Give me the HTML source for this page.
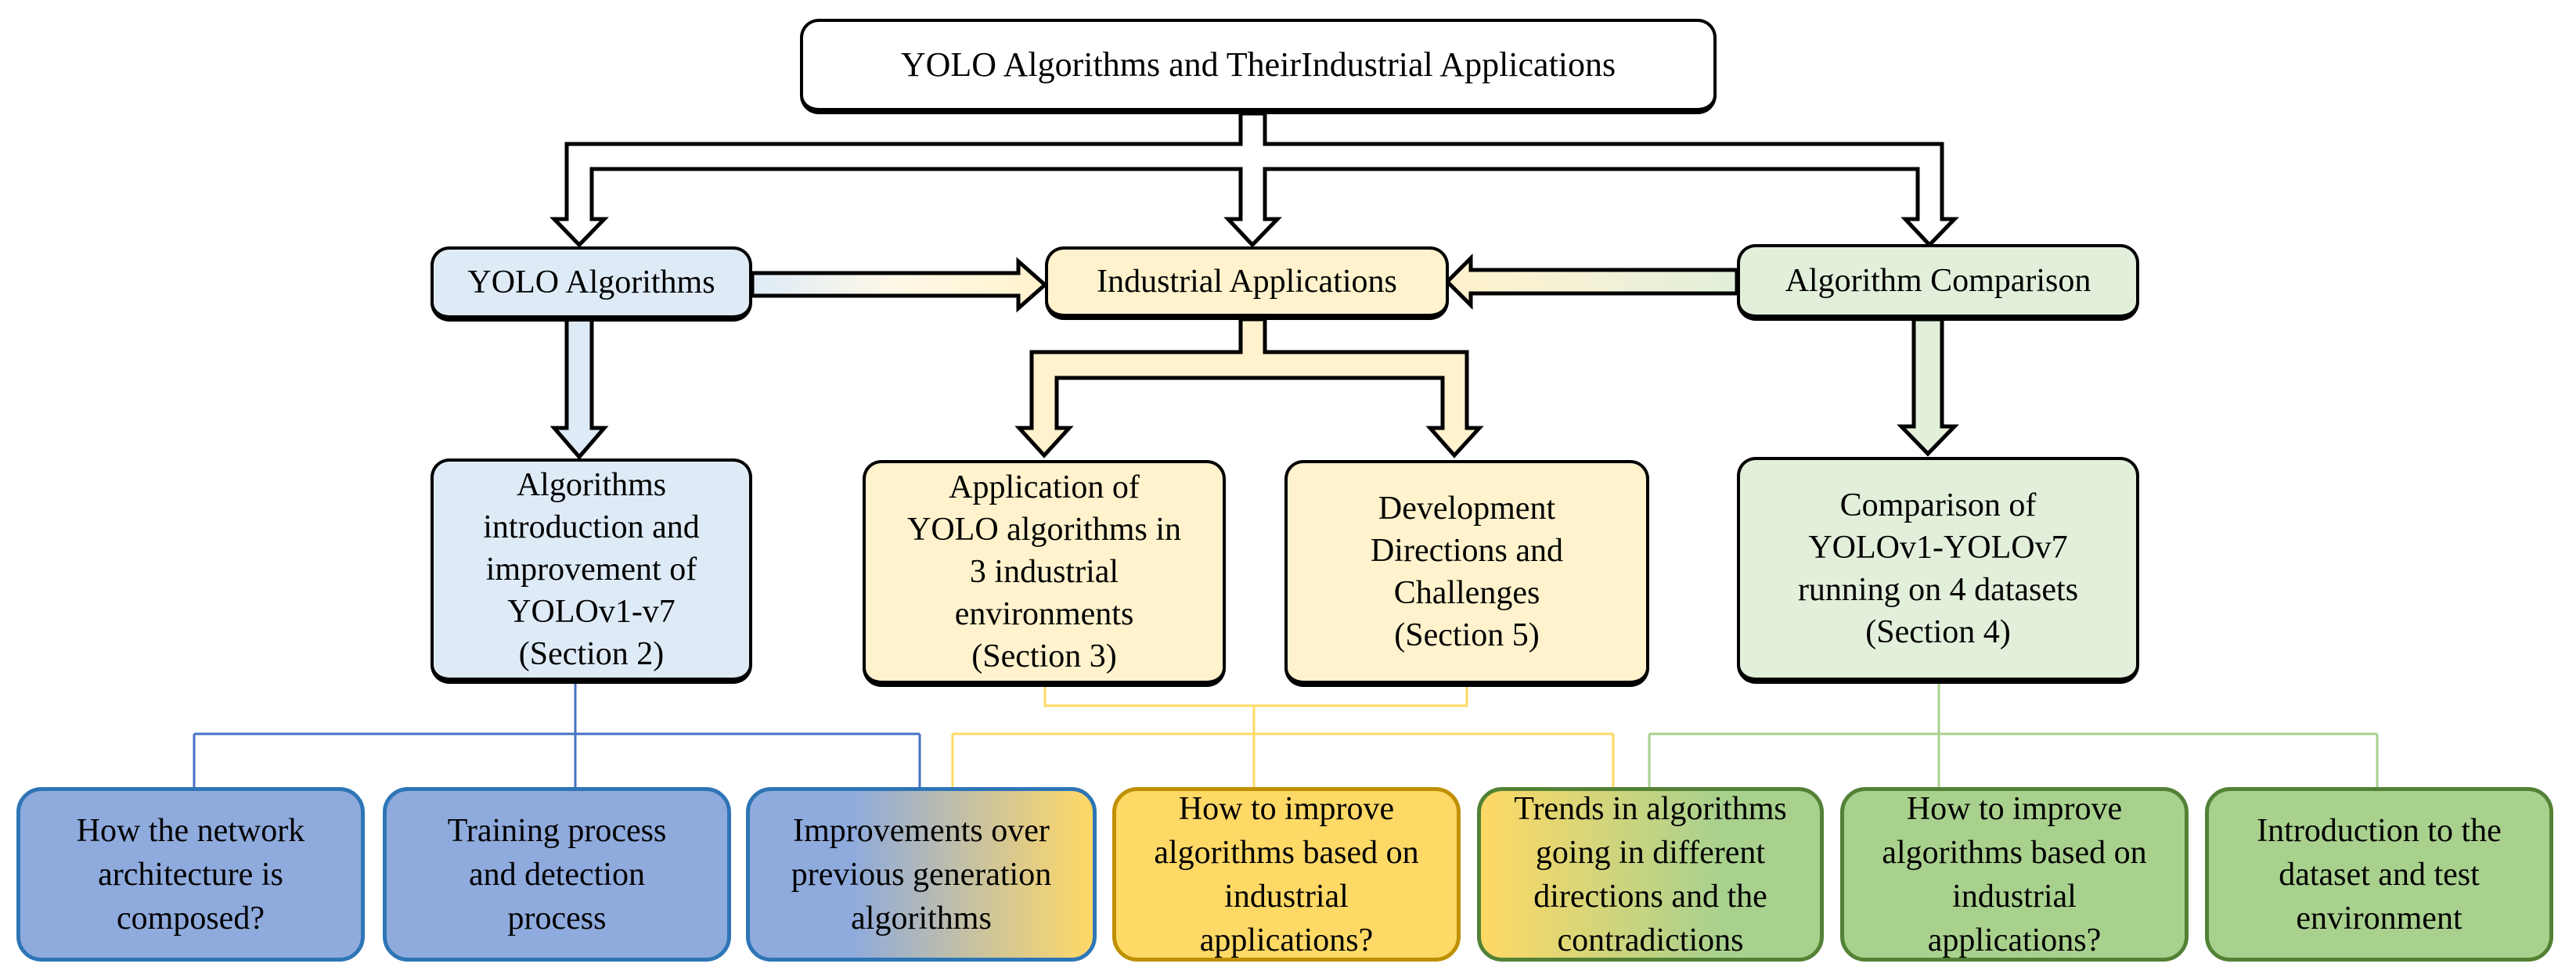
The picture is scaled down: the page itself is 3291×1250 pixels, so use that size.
<!DOCTYPE html>
<html><head><meta charset="utf-8"><style>
body{margin:0;width:3291px;height:1250px;background:#fff;position:relative;overflow:hidden;font-family:"Liberation Serif","Times New Roman",Tinos,"DejaVu Serif",serif;}
.b{position:absolute;box-sizing:border-box;display:flex;align-items:center;justify-content:center;text-align:center;color:#000;font-family:"Liberation Serif","Times New Roman",Tinos,"DejaVu Serif",serif;}
.k{border:4px solid #000;border-bottom-width:8px;border-radius:24px;font-size:42px;line-height:54px;}
.s{border:5px solid;border-radius:32px;font-size:42px;line-height:56px;}
.bl{background:#8faadc;border-color:#2e75b6;}
.ye{background:#ffd966;border-color:#bf9000;}
.gr{background:#a9d18e;border-color:#538135;}
</style></head><body>
<svg width="3291" height="1250" style="position:absolute;left:0;top:0">
<defs>
<linearGradient id="g1" x1="0" x2="1"><stop offset="0" stop-color="#deebf7"/><stop offset="0.5" stop-color="#fff8e6"/><stop offset="1" stop-color="#fff2cc"/></linearGradient>
<linearGradient id="g2" x1="0" x2="1"><stop offset="0" stop-color="#fff2cc"/><stop offset="0.5" stop-color="#f3f1d6"/><stop offset="1" stop-color="#e2efda"/></linearGradient>
</defs>
<g stroke="#000" stroke-width="5" stroke-linejoin="miter">
<polygon fill="#fff" points="1585,145 1585,184 724,184 724,280 708,280 740,313 772,280 756,280 756,216 1585,216 1585,280 1569,280 1600,313 1632,280 1616,280 1616,216 2450,216 2450,280 2434,280 2465,313 2497,280 2481,280 2481,184 1616,184 1616,145"/>
<polygon fill="#fff2cc" points="1585,408 1585,450 1318,450 1318,547 1302,547 1334,582 1366,547 1350,547 1350,483 1843,483 1843,547 1827,547 1858,582 1890,547 1874,547 1874,450 1616,450 1616,408"/>
<polygon fill="#deebf7" points="724,408 724,547 708,547 740,584 772,547 756,547 756,408"/>
<polygon fill="#e2efda" points="2445,408 2445,545 2429,545 2463,580 2497,545 2481,545 2481,408"/>
<polygon fill="url(#g1)" points="961,349 1301,349 1301,334 1335,364 1301,394 1301,378 961,378"/>
<polygon fill="url(#g2)" points="2219,345 1879,345 1879,330 1849,360 1879,390 1879,375 2219,375"/>
</g>
<g fill="none" stroke-width="3">
<path d="M735,874 V1006 M248,938 H1175 M248,938 V1006 M1175,938 V1006" stroke="#4472c4"/>
<path d="M1335,876 V902 H1874 V876 M1602,902 V1006 M1217,938 H2061 M1217,938 V1006 M2061,938 V1006" stroke="#ffd966"/>
<path d="M2477,874 V1006 M2107,938 H3037 M2107,938 V1006 M3037,938 V1006" stroke="#a9d18e"/>
</g>
</svg>
<div class="b k" style="left:1022px;top:24px;width:1171px;height:122px;background:#fff;font-size:44px;">YOLO Algorithms and TheirIndustrial Applications</div>
<div class="b k" style="left:550px;top:315px;width:411px;height:96px;background:#deebf7;">YOLO Algorithms</div>
<div class="b k" style="left:1335px;top:315px;width:516px;height:94px;background:#fff2cc;">Industrial Applications</div>
<div class="b k" style="left:2219px;top:312px;width:514px;height:98px;background:#e2efda;">Algorithm Comparison</div>
<div class="b k" style="left:550px;top:586px;width:411px;height:288px;background:#deebf7;">Algorithms<br>introduction and<br>improvement of<br>YOLOv1-v7<br>(Section 2)</div>
<div class="b k" style="left:1102px;top:588px;width:464px;height:290px;background:#fff2cc;">Application of<br>YOLO algorithms in<br>3 industrial<br>environments<br>(Section 3)</div>
<div class="b k" style="left:1641px;top:588px;width:466px;height:290px;background:#fff2cc;">Development<br>Directions and<br>Challenges<br>(Section 5)</div>
<div class="b k" style="left:2219px;top:584px;width:514px;height:290px;background:#e2efda;">Comparison of<br>YOLOv1-YOLOv7<br>running on 4 datasets<br>(Section 4)</div>
<div class="b s bl" style="left:21px;top:1006px;width:445px;height:223px;">How the network<br>architecture is<br>composed?</div>
<div class="b s bl" style="left:489px;top:1006px;width:445px;height:223px;">Training process<br>and detection<br>process</div>
<div class="b s" style="left:953px;top:1006px;width:448px;height:223px;border-color:#2e75b6;background:linear-gradient(90deg,#8faadc 0%,#8faadc 30%,#ffd966 100%);">Improvements over<br>previous generation<br>algorithms</div>
<div class="b s ye" style="left:1421px;top:1006px;width:445px;height:223px;">How to improve<br>algorithms based on<br>industrial<br>applications?</div>
<div class="b s" style="left:1887px;top:1006px;width:443px;height:223px;border-color:#538135;background:linear-gradient(90deg,#ffd966 0%,#a9d18e 70%,#a9d18e 100%);">Trends in algorithms<br>going in different<br>directions and the<br>contradictions</div>
<div class="b s gr" style="left:2351px;top:1006px;width:445px;height:223px;">How to improve<br>algorithms based on<br>industrial<br>applications?</div>
<div class="b s gr" style="left:2817px;top:1006px;width:445px;height:223px;">Introduction to the<br>dataset and test<br>environment</div>
</body></html>
